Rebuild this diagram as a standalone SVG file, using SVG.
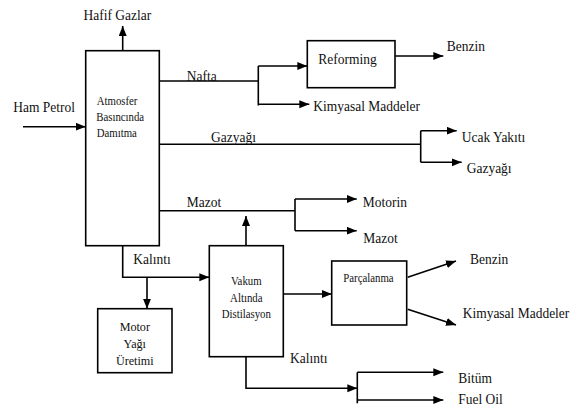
<svg xmlns="http://www.w3.org/2000/svg" width="577" height="412" viewBox="0 0 577 412" font-family="'Liberation Serif', 'DejaVu Serif', serif">
<style>
.box{fill:#fff;stroke:#000;stroke-width:1.6}
.ln{fill:none;stroke:#000;stroke-width:1.6}
.ar{marker-end:url(#ah)}
.t{font-family:'Liberation Serif','DejaVu Serif',serif;fill:#111}
.lg{font-size:15.5px}
.sm{font-size:12px}
.md{font-size:13.5px}
.c{text-anchor:middle}
</style>
<defs>
<marker id="ah" markerUnits="userSpaceOnUse" markerWidth="11" markerHeight="9" refX="10" refY="4" orient="auto">
<path d="M0,0 L10,4 L0,8 z" fill="#000"/>
</marker>
</defs>
<rect width="577" height="412" fill="#fff"/>
<g id="connectors">
<line class="ln ar" x1="122.7" y1="50.7" x2="122.7" y2="26"/>
<line class="ln ar" x1="23" y1="126.7" x2="85.7" y2="126.7"/>
<line class="ln" x1="159.3" y1="81" x2="258.3" y2="81"/>
<line class="ln" x1="258.3" y1="66" x2="258.3" y2="105.5"/>
<line class="ln ar" x1="258.3" y1="66" x2="307.3" y2="66"/>
<line class="ln ar" x1="258.3" y1="104.3" x2="309.3" y2="104.3"/>
<line class="ln ar" x1="395" y1="56" x2="443.3" y2="56"/>
<line class="ln" x1="159.3" y1="144.3" x2="420.7" y2="144.3"/>
<line class="ln" x1="420.7" y1="130.7" x2="420.7" y2="162.3"/>
<line class="ln ar" x1="420.7" y1="130.7" x2="456.7" y2="130.7"/>
<line class="ln ar" x1="420.7" y1="162.3" x2="461.7" y2="162.3"/>
<line class="ln" x1="159.3" y1="210.7" x2="295" y2="210.7"/>
<line class="ln" x1="295" y1="199" x2="295" y2="230.7"/>
<line class="ln ar" x1="295" y1="199" x2="356.7" y2="199"/>
<line class="ln ar" x1="295" y1="230.7" x2="356.7" y2="230.7"/>
<line class="ln ar" x1="246" y1="245.7" x2="246" y2="216"/>
<polyline class="ln ar" points="122.7,245.7 122.7,277.3 209.3,277.3"/>
<line class="ln ar" x1="147" y1="277.3" x2="147" y2="308.7"/>
<line class="ln ar" x1="283.3" y1="294" x2="331.7" y2="294"/>
<line class="ln ar" x1="407.7" y1="277.3" x2="456" y2="261"/>
<line class="ln ar" x1="407.7" y1="309.3" x2="456" y2="325"/>
<polyline class="ln ar" points="246,356.7 246,388.3 357.3,388.3"/>
<line class="ln" x1="357.3" y1="372.3" x2="357.3" y2="403.3"/>
<line class="ln ar" x1="357.3" y1="372.3" x2="443.3" y2="372.3"/>
<line class="ln ar" x1="357.3" y1="400" x2="443.3" y2="400"/>
</g>
<g id="atmosfer">
<rect class="box" x="85.7" y="50.7" width="73.6" height="195"/>
<text class="t sm" transform="translate(96.7,105) scale(0.9,1)">Atmosfer</text>
<text class="t sm" transform="translate(96.2,121) scale(0.9,1)">Basıncında</text>
<text class="t sm" transform="translate(96.7,136.5) scale(0.9,1)">Damıtma</text>
</g>
<g id="reforming">
<rect class="box" x="307.3" y="40.7" width="87.7" height="47"/>
<text class="t lg" transform="translate(318.3,64) scale(0.87,1)">Reforming</text>
</g>
<g id="motor">
<rect class="box" x="97.7" y="308.7" width="74.3" height="64"/>
<text class="t md c" transform="translate(134.8,330.7) scale(0.9,1)">Motor</text>
<text class="t md c" transform="translate(134.8,348.3) scale(0.9,1)">Yağı</text>
<text class="t md c" transform="translate(134.8,365) scale(0.9,1)">Üretimi</text>
</g>
<g id="vakum">
<rect class="box" x="209.3" y="245.7" width="74" height="111"/>
<text class="t sm c" transform="translate(246.3,285) scale(0.9,1)">Vakum</text>
<text class="t sm c" transform="translate(246.3,302) scale(0.9,1)">Altında</text>
<text class="t sm c" transform="translate(246.3,318.3) scale(0.9,1)">Distilasyon</text>
</g>
<g id="parcalanma">
<rect class="box" x="331.7" y="261" width="75" height="64"/>
<text class="t sm" transform="translate(343.3,281.7) scale(0.9,1)">Parçalanma</text>
</g>
<g id="labels">
<text class="t lg" transform="translate(83.5,20) scale(0.87,1)">Hafif Gazlar</text>
<text class="t lg" transform="translate(13.3,111.5) scale(0.87,1)">Ham Petrol</text>
<text class="t lg" transform="translate(186.7,81) scale(0.87,1)">Nafta</text>
<text class="t lg" transform="translate(446.7,50.7) scale(0.87,1)">Benzin</text>
<text class="t lg" transform="translate(313.3,111) scale(0.87,1)">Kimyasal Maddeler</text>
<text class="t lg" transform="translate(211,142) scale(0.87,1)">Gazyağı</text>
<text class="t lg" transform="translate(461.7,141.7) scale(0.87,1)">Ucak Yakıtı</text>
<text class="t lg" transform="translate(466.7,173) scale(0.87,1)">Gazyağı</text>
<text class="t lg" transform="translate(186.7,206.7) scale(0.87,1)">Mazot</text>
<text class="t lg" transform="translate(362.7,206.7) scale(0.87,1)">Motorin</text>
<text class="t lg" transform="translate(363.3,243.3) scale(0.87,1)">Mazot</text>
<text class="t lg" transform="translate(133.3,264) scale(0.87,1)">Kalıntı</text>
<text class="t lg" transform="translate(470,264) scale(0.87,1)">Benzin</text>
<text class="t lg" transform="translate(462.7,318.3) scale(0.87,1)">Kimyasal Maddeler</text>
<text class="t lg" transform="translate(290,363.3) scale(0.87,1)">Kalıntı</text>
<text class="t lg" transform="translate(458.3,383.3) scale(0.87,1)">Bitüm</text>
<text class="t lg" transform="translate(458.3,404) scale(0.87,1)">Fuel Oil</text>
</g>
</svg>
